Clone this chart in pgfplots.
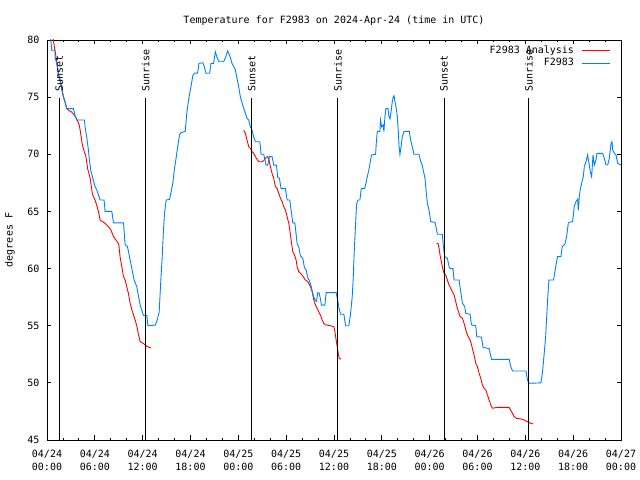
\documentclass[border=0pt]{standalone}
\usepackage{fontspec}
\setmainfont{DejaVu Sans Mono}
\usepackage{pgfplots}
\pgfplotsset{compat=1.18}
\definecolor{gblue}{RGB}{0,128,255}
\definecolor{gred}{RGB}{255,0,0}
\begin{document}
\begin{tikzpicture}[font=\fontsize{10bp}{13bp}\selectfont]
\path[use as bounding box] (0,0) rectangle (640bp,480bp);
\begin{axis}[
  at={(47bp,40bp)}, anchor=south west,
  scale only axis, width=574bp, height=400bp,
  xmin=0, xmax=72, ymin=45, ymax=80,
  xtick={0,6,...,72},
  xticklabels={{04/24\\00:00},{04/24\\06:00},{04/24\\12:00},{04/24\\18:00},
               {04/25\\00:00},{04/25\\06:00},{04/25\\12:00},{04/25\\18:00},
               {04/26\\00:00},{04/26\\06:00},{04/26\\12:00},{04/26\\18:00},
               {04/27\\00:00}},
  minor x tick num=2,
  ytick={45,50,...,80},
  tick align=inside,
  major tick length=4.5bp, minor tick length=2.3bp,
  every tick/.style={black, line width=0.8bp},
  axis line style={black, line width=0.9bp},
  xticklabel style={align=center, font=\fontsize{10bp}{13bp}\selectfont, anchor=north, inner sep=0pt, yshift=-10bp},
  yticklabel style={anchor=east, inner sep=0pt, xshift=-7.5bp, font=\fontsize{10bp}{13bp}\selectfont},
  /pgf/number format/assume math mode=true,
  legend style={at={(rel axis cs:1,1)}, anchor=north east, xshift=-7.5bp, yshift=-3.5bp,
    draw=none, fill=none, font=\fontsize{10bp}{13bp}\selectfont,
    column sep=7bp, row sep=2.5bp,
    nodes={inner sep=0pt, text height=7.5bp, text depth=2.5bp}},
  legend plot pos=right, legend cell align=right,
  legend image code/.code={\draw[#1, line width=1bp] (0bp,0bp) -- (28.3bp,0bp);},
]
% Analysis (red)
\addplot[gred, line width=0.9bp] coordinates {
(0.75,80.2) (1.0,79.1) (1.22,78.1) (1.42,77.09) (1.63,76.5) (1.84,75.77) (2.05,75.04) (2.26,74.6) (2.47,74.0) (2.68,73.86) (3.1,73.7) (3.52,73.33) (3.81,72.96) (4.06,72.5) (4.23,71.8) (4.44,70.8) (4.69,70.2) (4.86,69.9) (5.11,68.7) (5.4,67.96) (5.7,66.5) (6.03,66.0) (6.24,65.54) (6.45,65.0) (6.66,64.25) (7.29,63.96) (7.71,63.67) (8.0,63.4) (8.34,62.8) (8.76,62.4) (9.01,62.1) (9.17,61.0) (9.38,60.2) (9.59,59.3) (9.8,59.0) (10.01,58.4) (10.22,57.8) (10.43,56.96) (10.64,56.4) (10.85,55.95) (11.06,55.5) (11.27,54.96) (11.48,54.2) (11.69,53.6) (12.1,53.45) (12.52,53.2) (13.02,53.05)
};
\addlegendentry{F2983 Analysis}
\addplot[gred, line width=0.9bp, forget plot] coordinates {
(24.67,72.13) (24.88,71.83) (25.09,71.25) (25.3,70.67) (25.51,70.52) (25.72,70.23) (25.93,70.08) (26.26,69.65) (26.56,69.35) (26.98,69.35) (27.18,69.44) (27.39,69.65) (27.69,69.8) (27.85,69.5) (28.02,68.92) (28.23,68.33) (28.44,67.9) (28.65,67.17) (28.86,67.02) (29.07,66.58) (29.28,66.15) (29.49,65.86) (29.7,65.42) (29.91,65.13) (30.12,64.54) (30.33,63.96) (30.45,63.38) (30.62,62.5) (30.83,61.48) (31.04,61.19) (31.25,60.75) (31.37,60.17) (31.58,59.73) (31.79,59.6) (32.13,59.3) (32.42,59.0) (32.71,58.85) (33.05,58.42) (33.26,57.98) (33.47,57.25) (33.68,56.8) (33.89,56.5) (34.1,56.2) (34.31,55.9) (34.52,55.5) (34.72,55.2) (34.93,55.07) (35.56,55.0) (35.98,54.9) (36.11,54.5) (36.27,53.75) (36.4,53.2) (36.53,52.6) (36.65,52.15) (36.9,52.06)
};
\addplot[gred, line width=0.9bp, forget plot] coordinates {
(48.88,62.21) (49.05,62.21) (49.18,61.77) (49.3,61.19) (49.47,60.6) (49.59,60.17) (49.8,59.59) (50.01,59.44) (50.22,59.0) (50.43,58.56) (50.64,58.27) (50.85,57.98) (51.06,57.69) (51.27,57.11) (51.48,56.52) (51.81,55.8) (52.11,55.65) (52.32,55.21) (52.53,54.63) (52.74,54.19) (52.94,53.9) (53.15,53.6) (53.36,53.03) (53.57,52.44) (53.78,51.71) (53.99,51.42) (54.2,50.84) (54.41,50.4) (54.62,49.82) (54.83,49.52) (55.04,49.38) (55.25,48.94) (55.46,48.5) (55.67,48.07) (55.88,47.78) (56.51,47.86) (57.97,47.86) (58.18,47.57) (58.39,47.34) (58.6,47.05) (58.89,46.9) (59.44,46.84) (59.86,46.75) (60.27,46.6) (60.69,46.46) (60.99,46.4)
};
% Observations (blue)
\addplot[gblue, line width=0.9bp] coordinates {
(0.45,80.3) (0.59,79.1) (1.0,79.1) (1.0,78.5) (1.22,77.96) (1.42,77.09) (1.63,76.5) (1.84,75.92) (2.05,75.04) (2.26,74.6) (2.47,74.0) (3.31,74.0) (3.52,73.4) (3.73,73.0) (4.69,73.0) (4.78,72.4) (4.98,71.5) (5.19,70.4) (5.32,69.5) (5.49,68.6) (5.82,67.7) (6.03,67.17) (6.24,66.9) (6.66,66.0) (7.16,66.0) (7.29,65.0) (8.13,65.0) (8.34,64.0) (9.6,64.0) (9.8,62.1) (10.1,61.9) (10.43,60.75) (10.64,60.0) (10.93,59.0) (11.27,58.4) (11.48,57.55) (11.69,56.8) (12.1,55.9) (12.52,55.9) (12.65,55.0) (13.57,55.05) (13.78,55.4) (14.07,56.2) (14.28,59.0) (14.45,61.0) (14.62,63.5) (14.75,64.9) (14.95,66.0) (15.37,66.05) (15.54,66.6) (15.79,67.5) (15.96,68.6) (16.21,69.75) (16.38,70.6) (16.63,71.7) (16.84,71.9) (17.34,72.0) (17.55,73.7) (17.76,74.75) (18.05,75.9) (18.3,76.9) (18.51,77.1) (18.89,77.1) (19.06,77.96) (19.56,78.0) (19.73,77.67) (19.94,77.09) (20.4,77.09) (20.57,77.96) (20.9,77.96) (21.11,78.98) (21.32,78.5) (21.57,78.1) (22.16,78.1) (22.41,78.5) (22.66,79.04) (22.99,78.5) (23.2,77.96) (23.62,77.4) (24.04,75.92) (24.25,75.04) (24.59,74.2) (24.88,73.6) (25.09,73.15) (25.3,73.0) (25.51,72.4) (25.72,72.1) (25.93,71.5) (26.14,71.1) (26.68,71.1) (26.77,70.67) (26.85,70.0) (27.18,70.0) (27.31,69.6) (27.48,69.05) (27.69,69.05) (27.9,69.8) (28.23,69.8) (28.44,69.05) (28.78,69.05) (28.94,68.0) (29.15,67.9) (29.36,67.0) (29.91,67.0) (30.12,66.0) (30.45,66.0) (30.62,65.1) (30.83,64.0) (31.08,64.0) (31.25,63.0) (31.37,62.2) (31.58,61.9) (31.79,61.1) (32.09,60.9) (32.3,60.05) (32.5,59.9) (32.71,59.2) (32.92,58.9) (33.13,58.45) (33.38,57.7) (33.59,57.3) (33.8,57.15) (33.97,57.9) (34.14,57.85) (34.31,57.3) (34.43,56.8) (34.85,56.8) (35.02,57.9) (36.27,57.9) (36.48,57.15) (36.61,56.6) (36.82,56.0) (37.24,56.0) (37.45,55.0) (37.87,55.0) (38.07,56.0) (38.28,57.5) (38.41,59.1) (38.54,61.5) (38.7,63.8) (38.83,65.6) (39.0,66.0) (39.25,66.0) (39.42,67.0) (39.84,67.0) (40.04,67.55) (40.17,68.04) (40.38,68.63) (40.59,69.5) (40.71,69.94) (41.22,70.0) (41.3,70.96) (41.43,72.0) (41.76,72.0) (41.84,73.0) (41.97,72.4) (42.18,72.56) (42.26,71.98) (42.39,73.3) (42.51,74.0) (42.77,74.0) (42.89,73.3) (43.02,73.1) (43.19,73.9) (43.31,74.6) (43.44,75.04) (43.52,75.13) (43.65,74.6) (43.81,74.0) (43.94,73.3) (44.07,72.0) (44.15,70.8) (44.27,70.0) (44.44,70.8) (44.57,71.54) (44.78,72.0) (45.45,72.0) (45.61,71.25) (45.82,70.67) (46.03,70.0) (46.66,70.0) (46.87,69.4) (47.08,69.0) (47.29,68.3) (47.42,67.9) (47.58,66.6) (47.71,65.7) (47.92,65.1) (48.13,64.1) (48.67,64.05) (48.84,63.5) (48.97,63.0) (49.59,63.0) (49.72,61.9) (49.89,61.05) (50.22,60.9) (50.43,60.17) (50.56,60.0) (50.93,60.0) (51.06,59.0) (51.69,59.0) (51.9,57.98) (52.11,56.96) (52.4,56.67) (52.53,56.09) (53.07,56.0) (53.24,55.07) (53.78,55.0) (53.91,54.04) (54.5,54.0) (54.7,53.1) (55.46,53.0) (55.75,52.06) (57.97,52.06) (58.18,51.42) (58.39,51.04) (60.07,51.04) (60.27,50.25) (60.48,49.96) (61.95,50.0) (62.08,50.55) (62.24,51.57) (62.37,52.6) (62.54,53.9) (62.66,55.5) (62.79,57.25) (62.96,59.0) (63.54,59.0) (63.71,59.73) (63.88,60.46) (64.05,61.05) (64.46,61.05) (64.63,61.92) (64.97,62.15) (65.18,62.8) (65.39,63.96) (65.51,64.05) (65.93,64.1) (66.14,65.42) (66.35,65.86) (66.56,66.06) (66.64,65.1) (66.77,66.3) (66.89,66.93) (67.06,67.46) (67.27,68.04) (67.4,68.92) (67.61,69.36) (67.81,69.94) (68.02,69.06) (68.15,68.48) (68.32,68.04) (68.49,69.94) (68.65,69.06) (68.86,69.5) (68.99,70.08) (69.7,70.08) (69.91,69.65) (70.12,69.06) (70.33,69.06) (70.54,69.65) (70.75,70.96) (70.87,71.1) (70.96,70.38) (71.17,70.08) (71.38,69.94) (71.59,69.2) (72.0,69.06)
};
\addlegendentry{F2983}
% Sunset / sunrise markers
\addplot[black, line width=0.9bp, forget plot] coordinates {(1.55,45) (1.55,74.9)};
\addplot[black, line width=0.9bp, forget plot] coordinates {(12.36,45) (12.36,74.9)};
\addplot[black, line width=0.9bp, forget plot] coordinates {(25.68,45) (25.68,74.9)};
\addplot[black, line width=0.9bp, forget plot] coordinates {(36.48,45) (36.48,74.9)};
\addplot[black, line width=0.9bp, forget plot] coordinates {(49.8,45) (49.8,74.9)};
\addplot[black, line width=0.9bp, forget plot] coordinates {(60.45,45) (60.45,74.9)};
\node[rotate=90, anchor=west, inner sep=0pt] at (axis cs:1.55,75.45) {Sunset};
\node[rotate=90, anchor=west, inner sep=0pt] at (axis cs:12.36,75.45) {Sunrise};
\node[rotate=90, anchor=west, inner sep=0pt] at (axis cs:25.68,75.45) {Sunset};
\node[rotate=90, anchor=west, inner sep=0pt] at (axis cs:36.48,75.45) {Sunrise};
\node[rotate=90, anchor=west, inner sep=0pt] at (axis cs:49.8,75.45) {Sunset};
\node[rotate=90, anchor=west, inner sep=0pt] at (axis cs:60.45,75.45) {Sunrise};
\end{axis}
\node[anchor=base, inner sep=0pt] at (334bp,456.5bp) {Temperature for F2983 on 2024-Apr-24 (time in UTC)};
\node[rotate=90, anchor=center, inner sep=0pt] at (10bp,240bp) {degrees F};
\end{tikzpicture}
\end{document}
